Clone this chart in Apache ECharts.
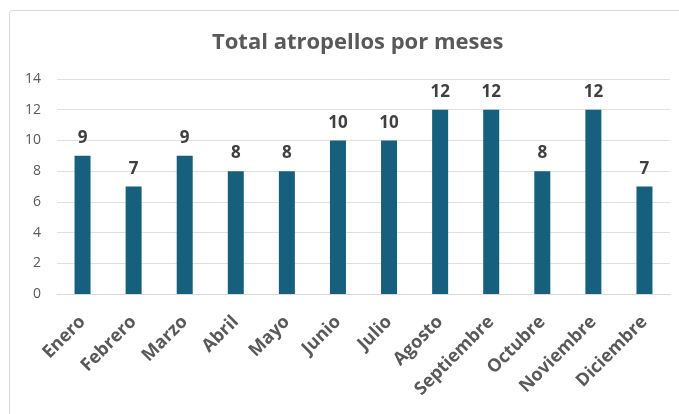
<!DOCTYPE html>
<html><head><meta charset="utf-8">
<script src="https://cdn.jsdelivr.net/npm/echarts@6/dist/echarts.min.js"></script>
<style>html,body{margin:0;padding:0;background:#fff}#c{width:679px;height:414px}</style>
</head><body><div id="c"></div>
<script>
const months = ['Enero','Febrero','Marzo','Abril','Mayo','Junio','Julio','Agosto','Septiembre','Octubre','Noviembre','Diciembre'];
const values = [9,7,9,8,8,10,10,12,12,8,12,7];
const yTicks = {min:0, max:14, interval:2};
const chart = echarts.init(document.getElementById('c'));
chart.setOption({
  animation:false,
  textStyle:{fontFamily:'Open Sans'},
  graphic:[{type:'rect',shape:{x:9.5,y:10.5,width:700,height:420,r:3},style:{fill:'none',stroke:'#d9d9d9',lineWidth:1},silent:true}],
  title:{text:'Total atropellos por meses',left:207,top:27,textStyle:{fontFamily:'Open Sans',fontSize:22,fontWeight:'bold',color:'#595959'}},
  grid:{left:57,right:9,top:79,bottom:120},
  xAxis:{type:'category',data:months,axisTick:{show:false},axisLine:{lineStyle:{color:'#d9d9d9'}},
    axisLabel:{rotate:45,interval:0,margin:25,fontSize:18,fontWeight:'bold',color:'#595959',fontFamily:'Open Sans'}},
  yAxis:{type:'value',min:yTicks.min,max:yTicks.max,interval:yTicks.interval,
    axisLabel:{fontSize:14,color:'#595959',margin:16,fontFamily:'Open Sans'},
    splitLine:{lineStyle:{color:'#e0e0e0'}},axisLine:{show:false}},
  series:[{type:'bar',data:values,barWidth:16,itemStyle:{color:'#17607D'},
    label:{show:true,position:'top',distance:9,fontSize:17,fontWeight:'bold',color:'#404040',fontFamily:'Open Sans'}}]
});
</script></body></html>
